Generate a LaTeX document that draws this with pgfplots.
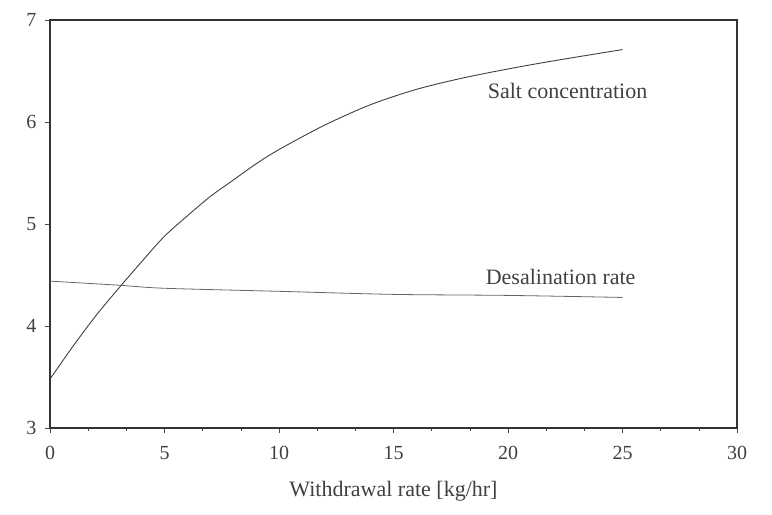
\documentclass[border=0pt]{standalone}
\usepackage{fontspec}
\setmainfont{Liberation Serif}
\usepackage{pgfplots}
\pgfplotsset{compat=1.18}
\begin{document}
\begin{tikzpicture}
\begin{axis}[
  name=ax,
  scale only axis,
  width=687pt, height=408pt,
  xmin=0, xmax=30, ymin=3, ymax=7,
  xtick={0,5,...,30}, ytick={3,4,5,6,7},
  minor x tick num=2,
  tick align=outside,
  tick pos=left,
  major tick length=5pt, minor tick length=3pt,
  axis line style={line width=1.3pt, black!80},
  every tick/.style={black!70, line width=0.6pt},
  tick label style={font=\fontsize{20}{22}\selectfont, black!75},
  /pgf/number format/assume math mode=true,
  xlabel={Withdrawal rate [kg/hr]},
  xlabel style={font=\fontsize{22}{24}\selectfont, black!75, yshift=-14pt},
  xticklabel style={yshift=-10pt},
  yticklabel style={xshift=-5pt},
]
\addplot[black!75, line width=0.9pt, smooth] coordinates {
(0,3.48) (1,3.80) (2,4.10) (3,4.37) (4,4.63) (5,4.88) (6,5.08) (7,5.27) (8,5.43) (9,5.59) (10,5.73) (12,5.97) (14,6.17) (16,6.32) (18,6.43) (20,6.52) (22,6.60) (25,6.71)
};
\addplot[black!60, line width=0.8pt, smooth] coordinates {
(0,4.44) (3,4.40) (5,4.37) (10,4.34) (15,4.31) (20,4.30) (25,4.28)
};
\node[font=\fontsize{22}{24}\selectfont, black!75] at (axis cs:22.6,6.3) {Salt concentration};
\node[font=\fontsize{22}{24}\selectfont, black!75] at (axis cs:22.3,4.48) {Desalination rate};
\end{axis}
\pgfresetboundingbox
\path ([xshift=-50pt,yshift=-86pt]ax.south west) rectangle ([xshift=35pt,yshift=20pt]ax.north east);
\end{tikzpicture}
\end{document}
